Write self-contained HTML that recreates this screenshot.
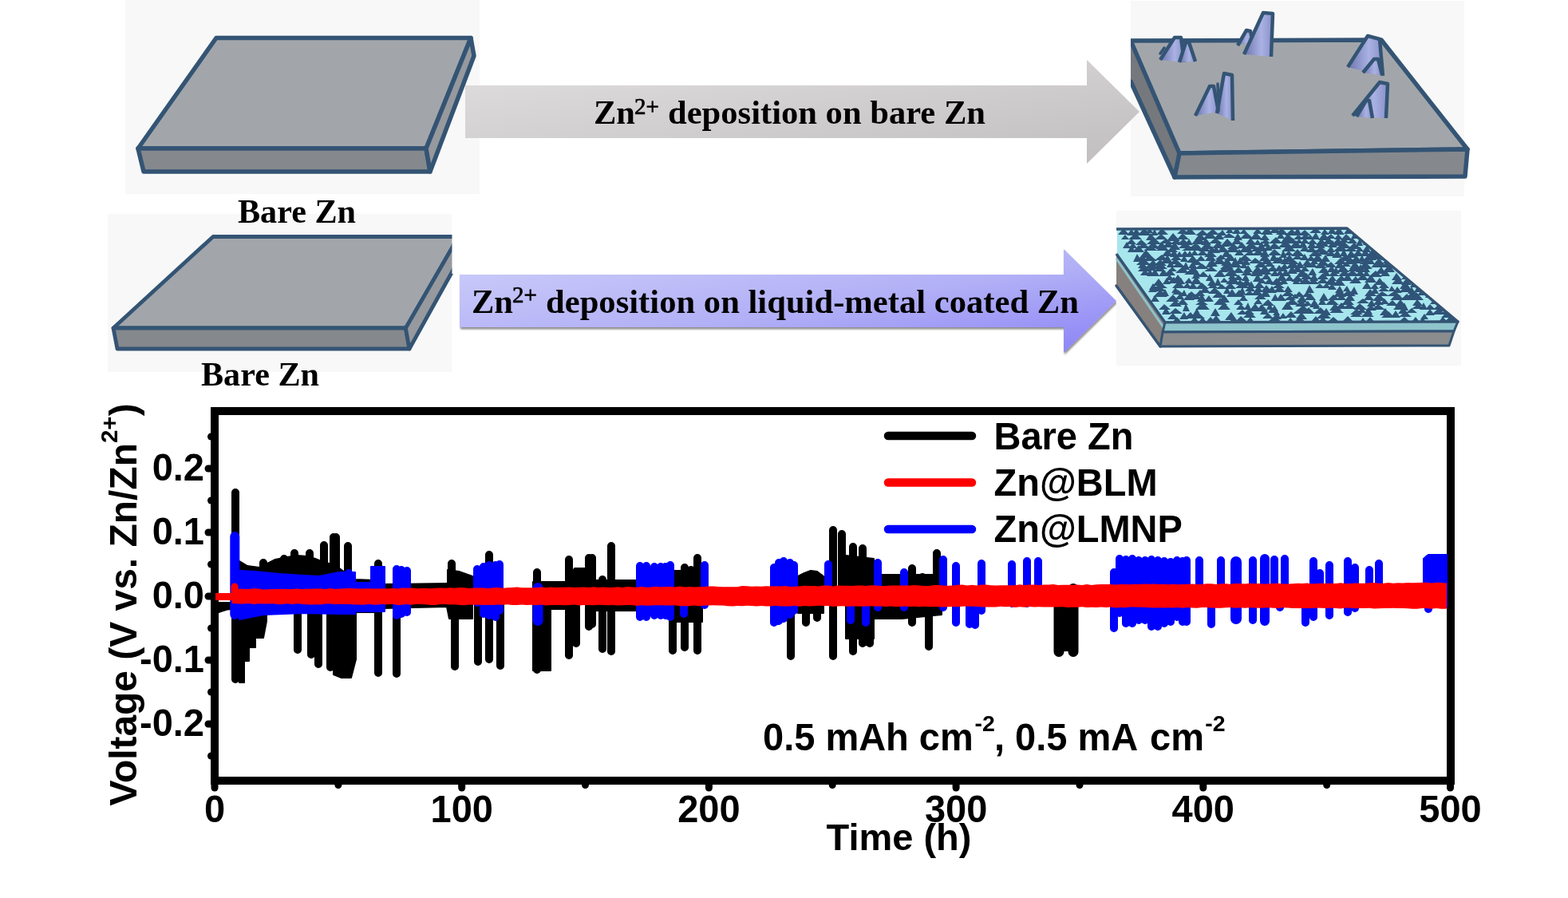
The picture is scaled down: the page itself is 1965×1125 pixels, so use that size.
<!DOCTYPE html>
<html><head><meta charset="utf-8"><title>Zn deposition</title>
<style>html,body{margin:0;padding:0;background:#fff;}svg{display:block;}</style></head>
<body><svg width="1965" height="1125" viewBox="0 0 1965 1125">
<defs><linearGradient id="g1" x1="0" y1="0" x2="1" y2="1">
<stop offset="0" stop-color="#e0dedf"/><stop offset="1" stop-color="#c1bebf"/></linearGradient>
<linearGradient id="g2" x1="0" y1="0" x2="1" y2="1">
<stop offset="0" stop-color="#cfcffa"/><stop offset="0.55" stop-color="#b2b0f6"/><stop offset="1" stop-color="#8a82f6"/></linearGradient>
<linearGradient id="cone" x1="0" y1="0" x2="1" y2="0">
<stop offset="0" stop-color="#6c74ac"/><stop offset="0.6" stop-color="#aab2e4"/><stop offset="1" stop-color="#8890c8"/></linearGradient>
<filter id="sh" x="-5%" y="-20%" width="110%" height="150%"><feDropShadow dx="1" dy="2.5" stdDeviation="1.2" flood-color="#000" flood-opacity="0.45"/></filter>
<clipPath id="p4clip"><polygon points="1400,287 1688,286 1827,403 1460,404 1400,318"/></clipPath></defs>
<rect width="1965" height="1125" fill="#fff"/>
<rect x="157" y="0" width="444" height="243" fill="#f8f8f8"/>
<polygon points="271.0,47.5 590.0,47.5 534.0,186.0 173.0,186.0" fill="#a2a6aa" stroke="#345474" stroke-width="5.5" stroke-linejoin="round" />
<polygon points="173.0,186.0 534.0,186.0 539.0,215.0 180.0,215.0" fill="#85898d" stroke="#345474" stroke-width="5.5" stroke-linejoin="round" />
<polygon points="590.0,47.5 594.0,70.0 539.0,215.0 534.0,186.0" fill="#96999d" stroke="#345474" stroke-width="5.5" stroke-linejoin="round" />
<rect x="1417" y="1" width="418" height="245" fill="#f8f8f8"/>
<polygon points="1417.0,56.0 1478.0,192.0 1472.0,222.0 1417.0,102.0" fill="#75787c" />
<path d="M1417,102L1472,222" stroke="#345474" stroke-width="5.5" stroke-linecap="round"/>
<polygon points="1417.0,51.0 1731.0,50.0 1839.0,187.0 1478.0,192.0" fill="#a2a6aa" stroke="#345474" stroke-width="5.5" stroke-linejoin="round" />
<polygon points="1478.0,192.0 1839.0,187.0 1836.0,221.0 1472.0,222.0" fill="#85898d" stroke="#345474" stroke-width="5.5" stroke-linejoin="round" />
<rect x="1411" y="0" width="6" height="250" fill="#fff"/>
<polygon points="1454.0,75.0 1472.0,47.0 1480.0,47.0 1484.0,78.0" fill="url(#cone)" /><path d="M1454,75L1472,47L1480,47L1484,78" fill="none" stroke="#345474" stroke-width="4.5" stroke-linejoin="round"/><path d="M1454,67L1459,60" stroke="#345474" stroke-width="3.5" stroke-linecap="round"/>
<polygon points="1478.0,78.0 1486.0,53.0 1490.0,53.0 1498.0,77.0" fill="url(#cone)" /><path d="M1478,78L1486,53L1490,53L1498,77" fill="none" stroke="#345474" stroke-width="4.5" stroke-linejoin="round"/>
<polygon points="1551.0,57.0 1562.0,38.0 1567.0,39.0 1570.0,52.0" fill="url(#cone)" /><path d="M1551,57L1562,38L1567,39L1570,52" fill="none" stroke="#345474" stroke-width="4.5" stroke-linejoin="round"/>
<polygon points="1559.0,68.0 1583.0,16.0 1595.0,17.0 1593.0,71.0" fill="url(#cone)" /><path d="M1559,68L1583,16L1595,17L1593,71" fill="none" stroke="#345474" stroke-width="4.5" stroke-linejoin="round"/>
<polygon points="1498.0,145.0 1516.0,108.0 1521.0,108.0 1527.0,140.0" fill="url(#cone)" /><path d="M1498,145L1516,108L1521,108L1527,140" fill="none" stroke="#345474" stroke-width="4.5" stroke-linejoin="round"/>
<polygon points="1525.0,142.0 1534.0,92.0 1544.0,94.0 1545.0,151.0" fill="url(#cone)" /><path d="M1525,142L1534,92L1544,94L1545,151" fill="none" stroke="#345474" stroke-width="4.5" stroke-linejoin="round"/><path d="M1526,105L1527,139" stroke="#345474" stroke-width="3.5" stroke-linecap="round"/>
<polygon points="1689.0,84.0 1714.0,45.0 1729.0,49.0 1733.0,95.0" fill="url(#cone)" /><path d="M1689,84L1714,45L1729,49L1733,95" fill="none" stroke="#345474" stroke-width="4.5" stroke-linejoin="round"/>
<polygon points="1708.0,91.0 1722.0,74.0 1727.0,74.0 1732.0,94.0" fill="url(#cone)" /><path d="M1708,91L1722,74L1727,74L1732,94" fill="none" stroke="#345474" stroke-width="4.5" stroke-linejoin="round"/>
<polygon points="1695.0,145.0 1729.0,103.0 1739.0,105.0 1737.0,148.0" fill="url(#cone)" /><path d="M1695,145L1729,103L1739,105L1737,148" fill="none" stroke="#345474" stroke-width="4.5" stroke-linejoin="round"/>
<polygon points="1700.0,146.0 1712.0,126.0 1716.0,126.0 1720.0,148.0" fill="url(#cone)" /><path d="M1700,146L1712,126L1716,126L1720,148" fill="none" stroke="#345474" stroke-width="4.5" stroke-linejoin="round"/>
<polygon points="583.0,107.0 1362.0,107.0 1362.0,75.0 1428.0,140.0 1362.0,205.0 1362.0,173.0 583.0,173.0" fill="url(#g1)" />
<rect x="135" y="268" width="431" height="198" fill="#f8f8f8"/>
<polygon points="267.0,296.5 574.6,296.5 508.4,411.0 142.0,411.0" fill="#a2a6aa" stroke="#345474" stroke-width="4.8" stroke-linejoin="round" />
<polygon points="142.0,411.0 508.4,411.0 513.0,437.0 147.0,437.0" fill="#85898d" stroke="#345474" stroke-width="4.8" stroke-linejoin="round" />
<polygon points="574.6,296.5 578.0,320.0 513.0,437.0 508.4,411.0" fill="#96999d" stroke="#345474" stroke-width="4.8" stroke-linejoin="round" />
<rect x="566.5" y="280" width="18" height="63" fill="#fff"/>
<g filter="url(#sh)"><polygon points="576.0,344.0 1333.0,344.0 1333.0,312.0 1399.0,377.0 1333.0,442.0 1333.0,410.0 576.0,410.0" fill="url(#g2)" /></g>
<rect x="1399" y="264" width="432" height="194" fill="#f8f8f8"/>
<polygon points="1399.0,318.0 1460.0,404.0 1454.0,434.0 1399.0,358.0" fill="#86817e" />
<path d="M1399,358L1454,434" stroke="#345474" stroke-width="3.5" stroke-linecap="round"/>
<path d="M1399,324L1458,410" stroke="#8ec4cc" stroke-width="3"/>
<polygon points="1400.0,287.0 1688.0,286.0 1827.0,403.0 1460.0,404.0 1400.0,318.0" fill="#a8e6ee" />
<g clip-path="url(#p4clip)"><path d="M1401,294L1408,286L1415,294ZM1412,295L1418,287L1423,295ZM1418,295L1424,286L1430,295ZM1425,295L1434,286L1443,295ZM1436,292L1441,286L1445,292ZM1442,295L1447,287L1451,295ZM1449,294L1456,286L1464,294ZM1475,293L1482,286L1490,293ZM1484,294L1491,285L1499,294ZM1498,295L1507,288L1515,295ZM1511,294L1520,287L1528,294ZM1526,295L1532,288L1537,295ZM1536,292L1541,285L1546,292ZM1544,293L1550,285L1555,293ZM1553,293L1559,287L1564,293ZM1570,293L1576,286L1582,293ZM1580,294L1588,284L1595,294ZM1590,292L1598,285L1606,292ZM1599,294L1606,285L1614,294ZM1610,295L1619,287L1627,295ZM1621,294L1626,285L1631,294ZM1627,295L1635,288L1643,295ZM1641,292L1649,285L1656,292ZM1655,294L1660,287L1666,294ZM1664,293L1669,284L1675,293ZM1671,294L1678,285L1685,294ZM1684,293L1689,286L1695,293ZM1690,293L1695,285L1701,293ZM1405,300L1410,294L1415,300ZM1414,300L1423,292L1431,300ZM1436,301L1442,292L1449,301ZM1447,300L1455,293L1463,300ZM1462,302L1470,292L1479,302ZM1475,300L1482,292L1490,300ZM1497,301L1504,292L1512,301ZM1508,299L1516,290L1525,299ZM1521,300L1528,291L1534,300ZM1532,298L1540,292L1549,298ZM1546,301L1551,292L1557,301ZM1554,299L1562,291L1571,299ZM1566,300L1574,291L1582,300ZM1579,301L1585,293L1591,301ZM1600,299L1605,291L1610,299ZM1607,301L1614,293L1622,301ZM1621,300L1627,294L1634,300ZM1628,300L1636,293L1644,300ZM1637,300L1642,294L1647,300ZM1643,300L1649,291L1654,300ZM1652,301L1659,292L1667,301ZM1661,299L1668,293L1674,299ZM1672,300L1677,293L1683,300ZM1680,301L1687,293L1695,301ZM1693,299L1698,290L1703,299ZM1701,300L1708,292L1715,300ZM1411,306L1418,299L1424,306ZM1423,307L1430,300L1438,307ZM1437,306L1446,297L1455,306ZM1453,305L1461,299L1470,305ZM1466,306L1474,300L1482,306ZM1475,307L1483,299L1491,307ZM1485,307L1490,299L1495,307ZM1493,306L1502,296L1511,306ZM1505,307L1511,298L1518,307ZM1515,305L1523,298L1532,305ZM1530,308L1538,299L1547,308ZM1543,306L1550,298L1557,306ZM1561,306L1567,298L1574,306ZM1571,307L1576,300L1581,307ZM1580,305L1586,299L1592,305ZM1590,305L1599,297L1607,305ZM1604,305L1612,296L1621,305ZM1615,305L1620,298L1626,305ZM1623,305L1628,299L1633,305ZM1630,305L1635,298L1641,305ZM1638,306L1645,299L1651,306ZM1649,307L1656,299L1663,307ZM1658,306L1665,297L1673,306ZM1668,308L1677,298L1685,308ZM1679,304L1684,297L1690,304ZM1688,305L1695,298L1701,305ZM1699,308L1704,299L1708,308ZM1708,307L1713,297L1718,307ZM1407,311L1412,303L1417,311ZM1414,311L1420,304L1425,311ZM1424,311L1433,305L1442,311ZM1437,311L1445,303L1453,311ZM1448,312L1456,303L1463,312ZM1457,310L1464,302L1471,310ZM1465,313L1472,303L1479,313ZM1477,311L1485,303L1494,311ZM1489,312L1498,305L1507,312ZM1505,312L1513,304L1521,312ZM1519,311L1527,302L1534,311ZM1532,309L1537,301L1541,309ZM1538,312L1546,305L1553,312ZM1550,311L1556,303L1563,311ZM1559,312L1568,303L1577,312ZM1576,311L1581,302L1585,311ZM1582,309L1587,302L1592,309ZM1589,312L1597,304L1606,312ZM1602,310L1611,301L1620,310ZM1616,311L1624,301L1632,311ZM1628,310L1633,301L1638,310ZM1638,311L1644,302L1650,311ZM1646,311L1654,304L1661,311ZM1656,309L1661,303L1665,309ZM1664,310L1670,301L1676,310ZM1676,311L1684,302L1693,311ZM1689,312L1697,304L1706,312ZM1715,311L1722,302L1730,311ZM1413,316L1418,307L1423,316ZM1419,316L1427,307L1434,316ZM1433,314L1442,307L1450,314ZM1449,314L1457,307L1465,314ZM1462,316L1469,308L1476,316ZM1481,314L1490,308L1498,314ZM1493,314L1501,306L1508,314ZM1502,315L1509,307L1517,315ZM1513,317L1519,308L1524,317ZM1519,317L1524,308L1529,317ZM1526,316L1532,306L1539,316ZM1536,316L1545,308L1554,316ZM1553,316L1559,309L1566,316ZM1560,316L1565,308L1570,316ZM1567,315L1575,309L1583,315ZM1576,315L1582,306L1588,315ZM1583,314L1589,307L1595,314ZM1606,315L1615,306L1624,315ZM1629,315L1635,307L1641,315ZM1637,316L1644,308L1650,316ZM1647,316L1655,309L1664,316ZM1662,316L1668,308L1673,316ZM1671,315L1680,306L1689,315ZM1684,315L1693,309L1701,315ZM1699,315L1704,309L1709,315ZM1707,316L1713,307L1718,316ZM1717,317L1723,307L1729,317ZM1428,323L1436,313L1445,323ZM1456,321L1463,312L1470,321ZM1466,322L1471,312L1477,322ZM1473,322L1478,315L1483,322ZM1479,322L1485,314L1491,322ZM1486,322L1491,314L1496,322ZM1492,320L1497,313L1502,320ZM1500,320L1507,313L1514,320ZM1509,322L1517,314L1525,322ZM1531,322L1537,312L1543,322ZM1547,320L1553,312L1559,320ZM1559,320L1566,314L1574,320ZM1569,320L1577,312L1585,320ZM1579,322L1585,312L1591,322ZM1589,320L1597,312L1606,320ZM1604,323L1608,313L1613,323ZM1609,320L1615,314L1621,320ZM1618,321L1626,312L1635,321ZM1640,321L1649,313L1657,321ZM1650,319L1659,312L1667,319ZM1661,321L1668,314L1675,321ZM1669,323L1676,313L1682,323ZM1679,321L1684,312L1689,321ZM1687,323L1693,313L1700,323ZM1695,321L1702,313L1709,321ZM1705,321L1711,312L1717,321ZM1712,322L1720,312L1728,322ZM1725,319L1731,313L1737,319ZM1420,328L1425,318L1431,328ZM1426,326L1432,319L1437,326ZM1433,327L1441,319L1450,327ZM1447,326L1456,319L1464,326ZM1457,329L1463,319L1469,329ZM1467,326L1474,319L1481,326ZM1479,328L1484,320L1489,328ZM1487,329L1495,320L1502,329ZM1499,327L1505,320L1511,327ZM1510,327L1517,317L1524,327ZM1523,325L1530,319L1537,325ZM1534,327L1542,318L1549,327ZM1551,327L1560,319L1569,327ZM1578,327L1585,318L1592,327ZM1591,327L1596,317L1602,327ZM1599,328L1604,321L1609,328ZM1608,328L1616,319L1623,328ZM1619,325L1626,319L1633,325ZM1629,326L1635,318L1640,326ZM1637,327L1643,320L1649,327ZM1644,328L1651,318L1659,328ZM1655,328L1661,319L1667,328ZM1677,327L1686,319L1694,327ZM1693,328L1700,320L1706,328ZM1702,328L1707,319L1711,328ZM1709,326L1717,317L1725,326ZM1719,325L1725,318L1732,325ZM1730,326L1737,319L1743,326ZM1424,332L1433,323L1442,332ZM1440,333L1445,325L1451,333ZM1446,333L1454,325L1462,333ZM1455,330L1460,323L1466,330ZM1465,331L1473,324L1481,331ZM1493,332L1500,325L1507,332ZM1513,334L1519,324L1526,334ZM1521,331L1528,321L1536,331ZM1530,333L1538,324L1545,333ZM1543,332L1548,322L1553,332ZM1549,331L1554,322L1560,331ZM1556,332L1561,323L1567,332ZM1565,330L1573,323L1582,330ZM1580,331L1588,322L1595,331ZM1594,330L1601,322L1607,330ZM1605,331L1610,322L1616,331ZM1612,331L1620,324L1628,331ZM1632,333L1638,325L1645,333ZM1642,331L1647,323L1652,331ZM1650,333L1658,325L1666,333ZM1672,331L1680,323L1688,331ZM1684,331L1692,322L1700,331ZM1696,330L1701,322L1707,330ZM1704,331L1712,322L1720,331ZM1714,331L1718,323L1723,331ZM1720,333L1728,323L1736,333ZM1732,330L1740,324L1748,330ZM1741,331L1747,323L1753,331ZM1426,336L1431,329L1436,336ZM1435,336L1443,328L1451,336ZM1445,337L1454,329L1463,337ZM1462,335L1467,326L1472,335ZM1469,335L1477,328L1486,335ZM1481,338L1486,328L1491,338ZM1489,336L1495,327L1500,336ZM1497,337L1506,330L1515,337ZM1511,335L1516,327L1520,335ZM1529,337L1538,329L1546,337ZM1541,335L1549,328L1557,335ZM1554,336L1559,329L1564,336ZM1572,335L1580,327L1588,335ZM1585,334L1591,328L1598,334ZM1604,337L1610,330L1615,337ZM1612,336L1620,326L1628,336ZM1623,336L1629,327L1635,336ZM1633,335L1640,328L1647,335ZM1641,335L1646,329L1651,335ZM1648,336L1655,327L1662,336ZM1660,335L1668,328L1675,335ZM1673,336L1679,327L1685,336ZM1681,334L1687,328L1693,334ZM1691,337L1698,327L1705,337ZM1702,337L1711,328L1720,337ZM1718,335L1727,327L1735,335ZM1731,335L1737,328L1743,335ZM1740,336L1746,328L1751,336ZM1747,335L1755,329L1762,335ZM1426,340L1434,331L1442,340ZM1437,339L1443,332L1449,339ZM1446,340L1453,333L1461,340ZM1464,340L1469,334L1475,340ZM1473,342L1482,334L1490,342ZM1488,341L1495,333L1502,341ZM1509,340L1518,334L1526,340ZM1528,341L1534,332L1539,341ZM1534,340L1541,334L1548,340ZM1545,342L1552,334L1559,342ZM1558,341L1564,332L1570,341ZM1568,343L1576,333L1584,343ZM1578,341L1585,332L1592,341ZM1587,340L1595,333L1603,340ZM1598,339L1603,332L1609,339ZM1604,340L1609,334L1614,340ZM1613,343L1619,333L1626,343ZM1620,341L1626,332L1632,341ZM1630,340L1635,333L1641,340ZM1652,342L1659,334L1665,342ZM1663,341L1669,332L1674,341ZM1670,343L1674,334L1679,343ZM1675,341L1683,332L1691,341ZM1689,340L1698,331L1707,340ZM1699,341L1705,331L1711,341ZM1707,341L1712,333L1717,341ZM1724,343L1731,334L1737,343ZM1733,341L1741,331L1748,341ZM1749,339L1756,332L1763,339ZM1429,345L1435,337L1441,345ZM1437,346L1441,336L1446,346ZM1442,346L1447,336L1453,346ZM1452,346L1458,337L1465,346ZM1459,345L1466,337L1473,345ZM1484,344L1493,337L1501,344ZM1495,346L1500,339L1505,346ZM1501,347L1508,340L1515,347ZM1521,347L1529,338L1536,347ZM1534,346L1543,337L1552,346ZM1555,345L1563,338L1570,345ZM1567,346L1575,337L1583,346ZM1578,344L1586,338L1595,344ZM1592,346L1598,338L1603,346ZM1599,345L1604,338L1609,345ZM1605,346L1611,338L1618,346ZM1624,347L1632,337L1640,347ZM1639,345L1645,336L1650,345ZM1657,346L1662,336L1667,346ZM1665,346L1671,339L1678,346ZM1677,346L1685,338L1693,346ZM1686,346L1695,338L1703,346ZM1698,346L1705,338L1711,346ZM1708,346L1712,338L1717,346ZM1715,347L1724,339L1732,347ZM1730,346L1736,337L1742,346ZM1460,351L1466,344L1471,351ZM1470,353L1476,344L1483,353ZM1493,349L1499,343L1504,349ZM1511,352L1516,343L1521,352ZM1539,350L1544,342L1549,350ZM1546,351L1552,344L1558,351ZM1556,352L1561,343L1566,352ZM1570,353L1576,343L1582,353ZM1581,350L1587,342L1593,350ZM1600,352L1606,342L1613,352ZM1610,352L1616,345L1622,352ZM1618,353L1626,345L1634,353ZM1630,350L1637,342L1645,350ZM1641,352L1647,342L1652,352ZM1650,350L1658,342L1665,350ZM1664,352L1670,345L1675,352ZM1674,352L1681,345L1688,352ZM1682,352L1689,343L1695,352ZM1700,351L1708,343L1715,351ZM1710,354L1718,344L1725,354ZM1744,351L1750,342L1757,351ZM1756,350L1762,344L1767,350ZM1765,352L1770,343L1775,352ZM1445,358L1452,349L1459,358ZM1457,356L1462,348L1467,356ZM1463,355L1471,347L1479,355ZM1475,356L1480,348L1485,356ZM1484,355L1490,348L1495,355ZM1492,356L1499,346L1506,356ZM1513,358L1519,349L1525,358ZM1522,358L1526,348L1531,358ZM1529,354L1534,348L1540,354ZM1536,356L1545,346L1554,356ZM1549,357L1554,350L1559,357ZM1556,358L1562,349L1569,358ZM1576,355L1581,348L1587,355ZM1584,356L1591,348L1597,356ZM1592,357L1600,348L1608,357ZM1603,356L1609,348L1614,356ZM1620,356L1624,346L1629,356ZM1627,356L1636,348L1645,356ZM1639,356L1646,349L1653,356ZM1650,355L1658,348L1665,355ZM1660,357L1668,347L1676,357ZM1671,358L1678,348L1686,358ZM1691,355L1699,346L1706,355ZM1722,357L1729,348L1736,357ZM1744,356L1752,347L1760,356ZM1756,357L1762,349L1769,357ZM1772,355L1779,349L1786,355ZM1440,363L1445,355L1451,363ZM1446,361L1455,355L1463,361ZM1469,361L1477,352L1485,361ZM1482,361L1488,354L1493,361ZM1489,362L1495,354L1501,362ZM1498,362L1506,354L1515,362ZM1514,361L1520,354L1526,361ZM1524,362L1531,356L1538,362ZM1534,362L1542,354L1549,362ZM1548,361L1557,353L1566,361ZM1563,361L1568,352L1573,361ZM1571,361L1578,353L1585,361ZM1594,361L1602,355L1610,361ZM1648,361L1654,355L1660,361ZM1656,361L1662,355L1668,361ZM1664,363L1669,355L1675,363ZM1707,362L1713,353L1719,362ZM1717,362L1723,355L1728,362ZM1728,361L1734,353L1741,361ZM1754,362L1761,352L1768,362ZM1767,360L1771,353L1776,360ZM1774,364L1783,354L1792,364ZM1439,366L1444,359L1450,366ZM1446,365L1453,357L1461,365ZM1468,367L1473,360L1478,367ZM1503,367L1510,359L1517,367ZM1514,368L1522,360L1531,368ZM1533,368L1538,359L1542,368ZM1552,369L1557,359L1561,369ZM1560,365L1567,357L1573,365ZM1571,366L1577,358L1583,366ZM1580,366L1587,357L1594,366ZM1588,367L1594,358L1600,367ZM1596,366L1603,358L1611,366ZM1609,366L1614,358L1620,366ZM1636,367L1641,357L1647,367ZM1673,367L1679,358L1684,367ZM1683,365L1688,358L1692,365ZM1691,369L1697,359L1702,369ZM1718,368L1723,359L1728,368ZM1727,365L1734,359L1741,365ZM1740,365L1744,358L1749,365ZM1746,367L1751,359L1757,367ZM1754,366L1762,356L1770,366ZM1764,368L1769,359L1774,368ZM1772,366L1777,358L1782,366ZM1781,368L1790,359L1799,368ZM1445,372L1454,363L1463,372ZM1455,371L1460,362L1465,371ZM1469,369L1476,363L1484,369ZM1479,371L1484,363L1488,371ZM1486,372L1493,365L1501,372ZM1497,371L1504,363L1510,371ZM1519,373L1527,365L1536,373ZM1537,372L1544,362L1551,372ZM1545,372L1553,363L1561,372ZM1559,370L1566,364L1573,370ZM1568,370L1575,362L1583,370ZM1579,372L1586,362L1592,372ZM1606,371L1614,364L1623,371ZM1622,372L1628,365L1635,372ZM1632,372L1638,365L1644,372ZM1671,372L1679,362L1687,372ZM1681,371L1690,363L1699,371ZM1710,371L1717,362L1725,371ZM1724,371L1732,365L1741,371ZM1738,371L1747,365L1756,371ZM1763,373L1771,363L1780,373ZM1776,370L1782,363L1788,370ZM1786,373L1792,364L1797,373ZM1442,378L1447,370L1453,378ZM1461,378L1470,369L1478,378ZM1473,375L1479,367L1484,375ZM1483,376L1490,367L1497,376ZM1492,375L1499,368L1506,375ZM1500,378L1506,368L1512,378ZM1509,378L1515,370L1521,378ZM1527,379L1534,369L1541,379ZM1553,377L1558,370L1564,377ZM1572,375L1579,368L1587,375ZM1593,377L1598,368L1603,377ZM1599,377L1605,368L1612,377ZM1609,376L1617,370L1624,376ZM1618,374L1623,368L1628,374ZM1625,379L1632,369L1638,379ZM1635,376L1642,367L1649,376ZM1653,377L1659,367L1665,377ZM1664,376L1671,369L1679,376ZM1675,376L1681,368L1687,376ZM1685,377L1692,368L1698,377ZM1709,376L1715,368L1722,376ZM1720,377L1728,368L1737,377ZM1742,376L1751,367L1760,376ZM1755,376L1763,368L1771,376ZM1766,376L1775,366L1784,376ZM1465,384L1473,376L1481,384ZM1475,382L1482,374L1489,382ZM1498,382L1506,376L1514,382ZM1521,382L1529,373L1538,382ZM1546,382L1552,375L1558,382ZM1571,381L1577,374L1582,381ZM1581,383L1589,375L1597,383ZM1611,382L1619,374L1628,382ZM1623,384L1631,376L1639,384ZM1633,383L1639,377L1644,383ZM1641,385L1647,375L1654,385ZM1652,382L1657,373L1662,382ZM1661,382L1669,374L1678,382ZM1681,382L1689,373L1697,382ZM1700,380L1708,374L1716,380ZM1713,384L1719,375L1724,384ZM1721,382L1727,374L1734,382ZM1730,381L1735,374L1741,381ZM1737,383L1745,376L1752,383ZM1748,384L1755,375L1762,384ZM1770,383L1776,375L1783,383ZM1792,381L1798,374L1803,381ZM1802,383L1809,376L1816,383ZM1452,388L1459,381L1467,388ZM1482,390L1486,380L1491,390ZM1498,388L1507,378L1516,388ZM1526,388L1534,379L1542,388ZM1549,388L1555,381L1562,388ZM1559,388L1564,379L1568,388ZM1565,390L1573,380L1580,390ZM1574,390L1581,381L1589,390ZM1587,388L1591,379L1596,388ZM1593,390L1597,382L1602,390ZM1606,388L1613,378L1621,388ZM1625,390L1633,382L1641,390ZM1645,387L1650,380L1654,387ZM1666,389L1673,380L1681,389ZM1674,387L1681,379L1688,387ZM1682,387L1691,380L1700,387ZM1696,388L1704,380L1713,388ZM1711,389L1718,382L1725,389ZM1719,388L1727,381L1736,388ZM1746,388L1754,379L1762,388ZM1756,389L1760,379L1765,389ZM1769,387L1777,381L1786,387ZM1779,388L1784,379L1789,388ZM1786,388L1792,381L1799,388ZM1796,388L1802,382L1808,388ZM1804,390L1810,380L1816,390ZM1456,394L1461,385L1467,394ZM1465,393L1473,386L1482,393ZM1494,396L1500,386L1505,396ZM1517,396L1523,386L1529,396ZM1550,394L1557,388L1563,394ZM1557,394L1565,387L1572,394ZM1579,394L1585,385L1590,394ZM1589,392L1594,385L1600,392ZM1595,395L1600,388L1604,395ZM1620,393L1629,386L1638,393ZM1632,393L1640,385L1648,393ZM1646,393L1655,385L1663,393ZM1656,395L1662,386L1668,395ZM1666,392L1675,385L1684,392ZM1692,394L1700,387L1708,394ZM1701,392L1707,385L1712,392ZM1709,394L1715,385L1720,394ZM1729,395L1736,386L1743,395ZM1752,393L1758,385L1765,393ZM1762,392L1769,386L1776,392ZM1786,395L1792,387L1798,395ZM1794,394L1803,386L1811,394ZM1806,393L1815,385L1824,393ZM1463,400L1470,392L1476,400ZM1478,400L1484,391L1489,400ZM1484,399L1492,391L1499,399ZM1493,399L1502,392L1510,399ZM1535,401L1543,391L1550,401ZM1558,398L1566,390L1574,398ZM1582,399L1589,392L1596,399ZM1594,400L1600,391L1606,400ZM1603,399L1608,392L1613,399ZM1610,398L1618,390L1625,398ZM1624,400L1631,391L1638,400ZM1650,399L1659,390L1668,399ZM1692,397L1700,390L1707,397ZM1705,397L1714,390L1722,397ZM1731,398L1740,390L1748,398ZM1743,398L1749,389L1755,398ZM1753,397L1761,390L1769,397ZM1780,400L1785,393L1790,400ZM1806,398L1813,391L1820,398ZM1815,401L1824,391L1833,401ZM1468,405L1475,397L1482,405ZM1492,403L1497,397L1502,403ZM1501,405L1507,397L1513,405ZM1509,406L1517,397L1525,406ZM1517,404L1524,395L1531,404ZM1540,404L1546,397L1552,404ZM1548,403L1555,396L1563,403ZM1559,407L1567,397L1574,407ZM1589,403L1597,396L1606,403ZM1612,405L1617,398L1623,405ZM1621,404L1629,397L1637,404ZM1643,403L1649,396L1655,403ZM1651,404L1658,397L1664,404ZM1663,404L1671,397L1679,404ZM1683,402L1689,396L1695,402ZM1703,405L1708,398L1713,405ZM1711,404L1717,397L1723,404ZM1752,404L1760,397L1768,404ZM1766,407L1774,397L1782,407ZM1778,404L1783,397L1787,404ZM1803,403L1808,397L1814,403ZM1811,403L1817,396L1824,403ZM1821,404L1827,396L1833,404ZM1828,402L1834,396L1840,402Z" fill="#2f5478"/></g>
<polyline points="1399,287 1688,286 1827,403 1460,404 1399,318" fill="none" stroke="#345474" stroke-width="3.5" stroke-linejoin="round"/>
<polygon points="1460.0,404.0 1827.0,403.0 1822.0,415.0 1457.0,416.0" fill="#8ec4cc" stroke="#345474" stroke-width="3" stroke-linejoin="round" />
<polygon points="1457.0,416.0 1822.0,415.0 1816.0,433.0 1454.0,434.0" fill="#8a8c8e" stroke="#345474" stroke-width="3" stroke-linejoin="round" />
<text x="252" y="483.3" style="font-family:'Liberation Serif','Times New Roman',serif;font-weight:bold;font-size:42.5px" textLength="148" lengthAdjust="spacingAndGlyphs">Bare Zn</text>
<text x="298" y="278.8" style="font-family:'Liberation Serif','Times New Roman',serif;font-weight:bold;font-size:42.5px" textLength="148" lengthAdjust="spacingAndGlyphs">Bare Zn</text>
<text x="744" y="155.3" style="font-family:'Liberation Serif','Times New Roman',serif;font-weight:bold;font-size:42.5px">Zn</text>
<text x="795" y="143.1" style="font-family:'Liberation Serif','Times New Roman',serif;font-size:29px" stroke="#000" stroke-width="0.7">2+</text>
<text x="837" y="155.3" style="font-family:'Liberation Serif','Times New Roman',serif;font-weight:bold;font-size:42.5px" textLength="398" lengthAdjust="spacingAndGlyphs">deposition on bare Zn</text>
<text x="591" y="392.3" style="font-family:'Liberation Serif','Times New Roman',serif;font-weight:bold;font-size:42.5px">Zn</text>
<text x="642" y="379.3" style="font-family:'Liberation Serif','Times New Roman',serif;font-size:29px" stroke="#000" stroke-width="0.7">2+</text>
<text x="684" y="392.3" style="font-family:'Liberation Serif','Times New Roman',serif;font-weight:bold;font-size:42.5px" textLength="668" lengthAdjust="spacingAndGlyphs">deposition on liquid-metal coated Zn</text>
<line x1="269.0" y1="978" x2="269.0" y2="987" stroke="#000" stroke-width="9" stroke-linecap="round"/>
<line x1="423.9" y1="978" x2="423.9" y2="983.5" stroke="#000" stroke-width="9" stroke-linecap="round"/>
<line x1="578.7" y1="978" x2="578.7" y2="987" stroke="#000" stroke-width="9" stroke-linecap="round"/>
<line x1="733.5" y1="978" x2="733.5" y2="983.5" stroke="#000" stroke-width="9" stroke-linecap="round"/>
<line x1="888.4" y1="978" x2="888.4" y2="987" stroke="#000" stroke-width="9" stroke-linecap="round"/>
<line x1="1043.2" y1="978" x2="1043.2" y2="983.5" stroke="#000" stroke-width="9" stroke-linecap="round"/>
<line x1="1198.1" y1="978" x2="1198.1" y2="987" stroke="#000" stroke-width="9" stroke-linecap="round"/>
<line x1="1353.0" y1="978" x2="1353.0" y2="983.5" stroke="#000" stroke-width="9" stroke-linecap="round"/>
<line x1="1507.8" y1="978" x2="1507.8" y2="987" stroke="#000" stroke-width="9" stroke-linecap="round"/>
<line x1="1662.7" y1="978" x2="1662.7" y2="983.5" stroke="#000" stroke-width="9" stroke-linecap="round"/>
<line x1="1817.5" y1="978" x2="1817.5" y2="987" stroke="#000" stroke-width="9" stroke-linecap="round"/>
<line x1="264.5" y1="947.0" x2="269" y2="947.0" stroke="#000" stroke-width="9" stroke-linecap="round"/>
<line x1="261" y1="907.0" x2="269" y2="907.0" stroke="#000" stroke-width="9" stroke-linecap="round"/>
<line x1="264.5" y1="867.0" x2="269" y2="867.0" stroke="#000" stroke-width="9" stroke-linecap="round"/>
<line x1="261" y1="827.0" x2="269" y2="827.0" stroke="#000" stroke-width="9" stroke-linecap="round"/>
<line x1="264.5" y1="787.0" x2="269" y2="787.0" stroke="#000" stroke-width="9" stroke-linecap="round"/>
<line x1="261" y1="747.0" x2="269" y2="747.0" stroke="#000" stroke-width="9" stroke-linecap="round"/>
<line x1="264.5" y1="707.0" x2="269" y2="707.0" stroke="#000" stroke-width="9" stroke-linecap="round"/>
<line x1="261" y1="667.0" x2="269" y2="667.0" stroke="#000" stroke-width="9" stroke-linecap="round"/>
<line x1="264.5" y1="627.0" x2="269" y2="627.0" stroke="#000" stroke-width="9" stroke-linecap="round"/>
<line x1="261" y1="587.0" x2="269" y2="587.0" stroke="#000" stroke-width="9" stroke-linecap="round"/>
<line x1="264.5" y1="547.0" x2="269" y2="547.0" stroke="#000" stroke-width="9" stroke-linecap="round"/>
<rect x="269" y="515" width="1549" height="463" fill="none" stroke="#000" stroke-width="10"/>
<path d="M269,754L292,754L292,764L285,764.5L277,767L269,770Z" fill="#000"/>
<path d="M300,747L300,703L310,709L325,711L335,706L345,701L360,698L372,696L385,697L395,700L405,704L420,708L428,714L445,726L470,727L480,732L560,731L561,747ZM300,747L300,855L306,855L306,828L312,828L312,811L320,811L320,799L330,799L334,778L334,747ZM418,747L418,845L428,849L440,849L446,826L446,767L470,767L480,762L560,760L563,775L592,775L592,747ZM561,747L561,714L575,716L592,722L592,747ZM668,747L668,729L710,729L720,712L735,712L742,747ZM668,747L668,840L690,840L690,763L710,763L742,747ZM742,747L742,727L800,727L800,747ZM742,747L742,765L800,765L800,747ZM845,747L845,715L880,715L880,779L845,779ZM1000,747L1000,722L1008,718L1016,715L1024,716L1032,722L1032,768L1000,768ZM1060,747L1060,696L1095,700L1095,720L1130,720L1180,720L1180,770L1130,775L1095,775L1095,800L1060,800ZM1327,750L1345,750L1345,815L1327,815Z" fill="#000" stroke="#000" stroke-width="2" stroke-linejoin="round"/>
<path d="M295,617.0V851.0M330,705.0V745.0M356,700.0V745.0M369,693.0V745.0M388,693.0V745.0M395,708.0V745.0M406,683.0V745.0M418,673.0V745.0M421,673.0V745.0M373,750.0V814.0M390,750.0V820.0M399,750.0V832.0M414,750.0V836.0M436,684.0V745.0M474,706.0V843.0M497,750.0V844.0M566,706.0V745.0M570,750.0V835.0M599,750.0V829.0M613,695.0V826.0M627,750.0V834.0M673,717.0V839.0M684,750.0V835.0M713,701.0V821.0M722,750.0V806.0M738,699.0V785.0M742,699.0V782.0M755,726.0V813.0M766,684.0V816.0M843,750.0V815.0M858,711.0V811.0M866,714.0V745.0M874,699.0V815.0M991,750.0V822.0M1010,750.0V780.0M1024,750.0V774.0M1044,664.0V822.0M1055,669.0V745.0M1069,685.0V816.0M1081,687.0V806.0M1090,750.0V806.0M1143,712.0V780.0M1156,723.0V745.0M1164,750.0V810.0M1174,693.0V745.0" stroke="#000" stroke-width="10" stroke-linecap="round" fill="none"/><path d="M1327,741.5V816.5M1345,737.5V816.5" stroke="#000" stroke-width="13" stroke-linecap="round" fill="none"/>
<path d="M300,776L300,715L320,716L350,719L380,721L400,722L410,720L425,717L445,717L445,730L465,730L465,710L482,710L482,766L465,766L445,766L445,769L425,769L380,768L330,770ZM1784,760L1784,700L1790,695L1813,695L1813,760Z" fill="#0000ff" stroke="#0000ff" stroke-width="2" stroke-linejoin="round"/>
<path d="M294.3,672.0V770.0M1585,700.0V778.0" stroke="#0000ff" stroke-width="12" stroke-linecap="round" fill="none"/><path d="M437,718.0V745.0M497,713.0V771.0M503,714.0V769.0M510,715.0V767.0M598,713.0V755.0M606,710.0V769.0M613,708.0V771.0M621,708.0V773.0M626,707.0V765.0M802,709.0V773.0M810,709.0V773.0M820,710.0V771.0M828,710.0V771.0M834,710.0V771.0M840,708.0V773.0M857,750.0V769.0M883,708.0V758.0M970,711.0V780.0M976,705.0V778.0M982,703.0V775.0M990,705.0V770.0M995,708.0V765.0M1038,707.0V745.0M1066,750.0V777.0M1085,750.0V780.0M1100,705.0V761.0M1133,717.0V761.0M1182,701.0V761.0M1198,709.0V780.0M1215,750.0V782.0M1222,750.0V783.0M1230,706.0V765.0M1268,707.0V756.0M1287,703.0V756.0M1301,703.0V745.0M1396,717.0V787.0M1403,700.0V768.0M1411,701.0V781.0M1419,700.0V781.0M1427,702.0V777.0M1435,702.0V777.0M1443,701.0V785.0M1451,702.0V785.0M1459,703.0V781.0M1467,704.0V779.0M1475,702.0V773.0M1482,703.0V779.0M1487,702.0V779.0M1503,702.0V745.0M1518,750.0V782.0M1530,702.0V745.0M1570,702.0V777.0M1597,701.0V745.0M1604,750.0V761.0M1610,700.0V745.0M1636,750.0V780.0M1646,703.0V773.0M1654,718.0V745.0M1666,708.0V771.0M1689,703.0V767.0M1698,711.0V762.0M1716,714.0V745.0M1728,706.0V745.0M1790,700.0V763.0" stroke="#0000ff" stroke-width="10" stroke-linecap="round" fill="none"/><path d="M674,736.5V777.5" stroke="#0000ff" stroke-width="13" stroke-linecap="round" fill="none"/><path d="M1549,704.0V775.0" stroke="#0000ff" stroke-width="14" stroke-linecap="round" fill="none"/>
<path d="M270,743L290,743L291,738L300,737.7L306,737.8L312,738.1L318,737.3L324,737.6L330,738.4L336,738.2L342,737.9L348,737.9L354,737.7L360,737.9L366,738.0L372,737.4L378,738.0L384,737.8L390,737.8L396,737.4L402,737.4L408,737.9L414,737.0L420,737.9L426,737.5L432,737.3L438,737.1L444,737.3L450,737.4L456,737.6L462,737.3L468,737.5L474,737.6L480,737.3L486,737.4L492,736.7L498,737.4L504,736.4L510,736.8L516,736.6L522,737.3L528,736.9L534,737.0L540,737.2L546,736.7L552,736.4L558,736.8L564,736.2L570,736.7L576,736.0L582,736.3L588,737.0L594,736.4L600,736.6L606,736.5L612,736.9L618,736.2L624,736.0L630,736.8L636,736.3L642,736.1L648,735.6L654,736.3L660,736.2L666,736.3L672,736.3L678,735.4L684,736.2L690,735.6L696,736.0L702,735.7L708,735.7L714,735.6L720,736.1L726,735.8L732,735.5L738,736.0L744,735.3L750,735.9L756,735.4L762,736.0L768,736.0L774,735.3L780,735.9L786,735.1L792,735.4L798,735.7L804,735.0L810,735.7L816,735.6L822,734.8L828,735.6L834,735.0L840,735.0L846,735.6L852,734.5L858,735.5L864,734.9L870,735.5L876,735.2L882,735.1L888,734.6L894,734.5L900,734.9L906,735.2L912,735.2L918,735.2L924,735.2L930,734.1L936,734.2L942,734.8L948,734.5L954,734.7L960,734.2L966,734.5L972,734.3L978,734.5L984,734.0L990,734.9L996,734.7L1002,734.4L1008,733.7L1014,733.9L1020,734.1L1026,734.5L1032,733.6L1038,733.6L1044,734.6L1050,733.5L1056,733.8L1062,733.8L1068,734.0L1074,733.5L1080,733.4L1086,734.1L1092,733.3L1098,733.6L1104,734.1L1110,734.1L1116,733.6L1122,733.6L1128,733.5L1134,733.5L1140,733.6L1146,733.0L1152,733.4L1158,734.0L1164,733.9L1170,733.1L1176,732.9L1182,733.5L1188,733.7L1194,733.6L1200,732.8L1206,732.6L1212,733.5L1218,732.7L1224,733.6L1230,732.5L1236,732.6L1242,733.2L1248,733.5L1254,733.3L1260,733.2L1266,733.2L1272,733.2L1278,732.3L1284,732.9L1290,732.5L1296,732.4L1302,733.0L1308,732.5L1314,732.5L1320,732.1L1326,733.1L1332,732.8L1338,732.7L1344,732.7L1350,732.4L1356,732.9L1362,731.9L1368,732.9L1374,732.3L1380,731.9L1386,731.9L1392,732.0L1398,732.4L1404,731.9L1410,732.0L1416,732.2L1422,731.7L1428,732.0L1434,731.6L1440,731.8L1446,731.5L1452,731.9L1458,731.8L1464,732.2L1470,731.8L1476,732.2L1482,732.0L1488,731.7L1494,731.4L1500,731.9L1506,732.0L1512,731.2L1518,731.2L1524,732.0L1530,731.2L1536,731.2L1542,731.7L1548,730.9L1554,731.1L1560,731.4L1566,730.7L1572,731.2L1578,730.9L1584,731.8L1590,731.2L1596,730.9L1602,730.7L1608,731.6L1614,731.6L1620,731.3L1626,730.7L1632,731.1L1638,730.6L1644,731.4L1650,730.9L1656,730.8L1662,731.1L1668,730.8L1674,730.9L1680,730.3L1686,730.9L1692,731.2L1698,730.4L1704,730.7L1710,730.7L1716,730.3L1722,730.0L1728,730.8L1734,730.7L1740,730.1L1746,730.8L1752,730.3L1758,730.6L1764,730.1L1770,730.3L1776,730.0L1782,729.7L1788,729.7L1794,730.4L1800,729.7L1806,729.9L1812,730.4L1813,730.1L1813,762.1L1812,762.8L1806,762.8L1800,762.1L1794,762.7L1788,761.9L1782,762.1L1776,762.8L1770,762.7L1764,762.2L1758,762.1L1752,762.0L1746,761.7L1740,762.1L1734,762.0L1728,762.2L1722,762.4L1716,761.7L1710,762.0L1704,762.1L1698,762.3L1692,761.6L1686,761.5L1680,762.4L1674,762.1L1668,761.5L1662,762.1L1656,761.7L1650,761.4L1644,762.0L1638,762.1L1632,762.1L1626,762.0L1620,762.0L1614,761.6L1608,761.2L1602,762.1L1596,761.8L1590,761.2L1584,761.5L1578,761.7L1572,761.5L1566,761.3L1560,761.7L1554,761.3L1548,761.8L1542,760.9L1536,761.3L1530,761.8L1524,761.8L1518,761.6L1512,761.0L1506,761.0L1500,761.8L1494,761.5L1488,760.9L1482,761.7L1476,761.0L1470,761.4L1464,761.2L1458,761.5L1452,761.2L1446,761.6L1440,761.3L1434,760.8L1428,760.8L1422,760.4L1416,760.6L1410,761.3L1404,761.1L1398,761.4L1392,760.5L1386,760.9L1380,760.5L1374,761.0L1368,760.8L1362,761.0L1356,760.3L1350,760.8L1344,760.7L1338,760.9L1332,760.2L1326,760.5L1320,760.5L1314,760.4L1308,760.4L1302,760.3L1296,760.6L1290,760.0L1284,760.8L1278,760.2L1272,760.9L1266,759.9L1260,760.3L1254,759.7L1248,760.4L1242,760.6L1236,760.6L1230,760.6L1224,759.8L1218,759.7L1212,759.6L1206,759.7L1200,760.2L1194,760.1L1188,760.2L1182,760.5L1176,760.3L1170,759.9L1164,760.3L1158,759.8L1152,760.3L1146,759.8L1140,760.1L1134,759.5L1128,760.0L1122,760.0L1116,759.6L1110,759.9L1104,759.5L1098,759.8L1092,759.3L1086,759.5L1080,759.7L1074,759.4L1068,759.4L1062,759.7L1056,759.3L1050,759.5L1044,759.9L1038,758.9L1032,759.0L1026,758.8L1020,759.3L1014,759.4L1008,759.0L1002,759.7L996,758.7L990,759.6L984,759.6L978,759.6L972,758.8L966,759.5L960,759.6L954,758.9L948,759.6L942,759.1L936,758.8L930,759.3L924,759.1L918,759.4L912,759.2L906,758.4L900,758.6L894,758.3L888,758.6L882,758.8L876,759.2L870,758.4L864,759.3L858,759.3L852,759.2L846,758.3L840,758.5L834,758.5L828,758.3L822,758.3L816,758.4L810,758.7L804,758.2L798,758.9L792,758.1L786,758.0L780,758.3L774,758.6L768,758.0L762,758.3L756,758.1L750,757.8L744,758.2L738,757.9L732,757.9L726,758.5L720,757.6L714,758.0L708,758.2L702,757.9L696,757.9L690,758.0L684,758.6L678,757.5L672,758.3L666,757.8L660,757.9L654,757.4L648,758.0L642,758.0L636,757.2L630,757.8L624,757.5L618,758.0L612,757.7L606,757.9L600,757.8L594,757.7L588,757.5L582,758.2L576,758.0L570,757.2L564,757.4L558,757.0L552,757.0L546,758.1L540,758.0L534,757.2L528,756.9L522,756.8L516,757.7L510,756.9L504,757.7L498,757.9L492,756.7L486,757.3L480,756.9L474,757.3L468,757.7L462,756.7L456,757.7L450,757.6L444,757.6L438,757.1L432,756.9L426,756.8L420,756.9L414,756.6L408,756.4L402,757.4L396,757.2L390,757.4L384,757.3L378,756.8L372,756.2L366,756.9L360,756.2L354,757.0L348,757.1L342,756.2L336,756.6L330,756.6L324,756.3L318,757.0L312,756.0L306,756.6L300,756.6L291,756L290,752L270,752Z" fill="#ff0000"/><path d="M294,735V750" stroke="#ff0000" stroke-width="9" stroke-linecap="round"/>
<text transform="translate(256.0,602.0) scale(1,1.03)" text-anchor="end" style="font-family:'Liberation Sans',Arial,sans-serif;font-weight:bold;font-size:47px">0.2</text>
<text transform="translate(256.0,682.0) scale(1,1.03)" text-anchor="end" style="font-family:'Liberation Sans',Arial,sans-serif;font-weight:bold;font-size:47px">0.1</text>
<text transform="translate(256.0,762.0) scale(1,1.03)" text-anchor="end" style="font-family:'Liberation Sans',Arial,sans-serif;font-weight:bold;font-size:47px">0.0</text>
<text transform="translate(256.0,842.0) scale(1,1.03)" text-anchor="end" style="font-family:'Liberation Sans',Arial,sans-serif;font-weight:bold;font-size:47px">-0.1</text>
<text transform="translate(256.0,922.0) scale(1,1.03)" text-anchor="end" style="font-family:'Liberation Sans',Arial,sans-serif;font-weight:bold;font-size:47px">-0.2</text>
<text transform="translate(269.0,1030.0) scale(1,1.03)" text-anchor="middle" style="font-family:'Liberation Sans',Arial,sans-serif;font-weight:bold;font-size:47px">0</text>
<text transform="translate(578.7,1030.0) scale(1,1.03)" text-anchor="middle" style="font-family:'Liberation Sans',Arial,sans-serif;font-weight:bold;font-size:47px">100</text>
<text transform="translate(888.4,1030.0) scale(1,1.03)" text-anchor="middle" style="font-family:'Liberation Sans',Arial,sans-serif;font-weight:bold;font-size:47px">200</text>
<text transform="translate(1198.1,1030.0) scale(1,1.03)" text-anchor="middle" style="font-family:'Liberation Sans',Arial,sans-serif;font-weight:bold;font-size:47px">300</text>
<text transform="translate(1507.8,1030.0) scale(1,1.03)" text-anchor="middle" style="font-family:'Liberation Sans',Arial,sans-serif;font-weight:bold;font-size:47px">400</text>
<text transform="translate(1817.5,1030.0) scale(1,1.03)" text-anchor="middle" style="font-family:'Liberation Sans',Arial,sans-serif;font-weight:bold;font-size:47px">500</text>
<text x="1126.5" y="1065.4" text-anchor="middle" style="font-family:'Liberation Sans',Arial,sans-serif;font-weight:bold;font-size:47px">Time (h)</text>
<text transform="translate(171,1009.5) rotate(-90) scale(1.02,1.03)" style="font-family:'Liberation Sans',Arial,sans-serif;font-weight:bold;font-size:47px">Voltage (V vs. Zn/Zn<tspan dy="-23" style="font-size:29px">2+</tspan><tspan dy="23">)</tspan></text>
<line x1="1113" y1="546.0" x2="1218" y2="546.0" stroke="#000" stroke-width="10.5" stroke-linecap="round"/>
<text transform="translate(1245.5,562.5) scale(1,1.02)" style="font-family:'Liberation Sans',Arial,sans-serif;font-weight:bold;font-size:47px">Bare Zn</text>
<line x1="1113" y1="604.5" x2="1218" y2="604.5" stroke="#ff0000" stroke-width="10.5" stroke-linecap="round"/>
<text transform="translate(1245.5,620.7) scale(1,1.02)" style="font-family:'Liberation Sans',Arial,sans-serif;font-weight:bold;font-size:47px">Zn@BLM</text>
<line x1="1113" y1="663.0" x2="1218" y2="663.0" stroke="#0000ff" stroke-width="10.5" stroke-linecap="round"/>
<text transform="translate(1245.5,678.9) scale(1,1.02)" style="font-family:'Liberation Sans',Arial,sans-serif;font-weight:bold;font-size:47px">Zn@LMNP</text>
<text transform="translate(956.0,939.6) scale(1,1.04)" style="font-family:'Liberation Sans',Arial,sans-serif;font-weight:bold;font-size:47px">0.5 mAh cm</text>
<text x="1221.6" y="916.1" style="font-family:'Liberation Sans',Arial,sans-serif;font-weight:bold;font-size:28.5px">-2</text>
<text transform="translate(1246.0,939.6) scale(1,1.04)" style="font-family:'Liberation Sans',Arial,sans-serif;font-weight:bold;font-size:47px">, 0.5 mA</text>
<text transform="translate(1441.0,939.6) scale(1,1.04)" style="font-family:'Liberation Sans',Arial,sans-serif;font-weight:bold;font-size:47px">cm</text>
<text x="1510.3" y="916.1" style="font-family:'Liberation Sans',Arial,sans-serif;font-weight:bold;font-size:28.5px">-2</text>
</svg></body></html>
